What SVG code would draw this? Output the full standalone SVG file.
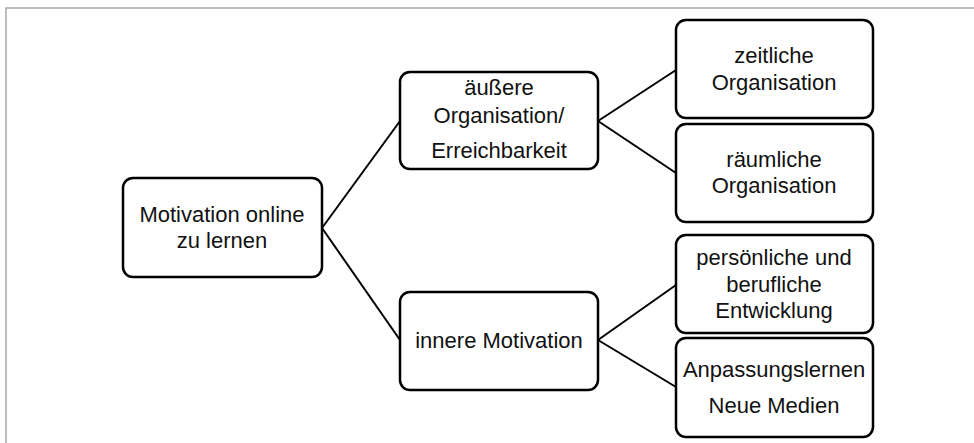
<svg xmlns="http://www.w3.org/2000/svg" width="974" height="443" viewBox="0 0 974 443">
  <style>
    .frame { fill: none; stroke: #a6a6a6; stroke-width: 1.5; }
    .box { fill: #ffffff; stroke: #000000; stroke-width: 2.5; }
    .link { fill: none; stroke: #000000; stroke-width: 2; }
    text { font-family: "Liberation Sans", Arial, sans-serif; font-size: 22px; fill: #111111; text-anchor: middle; }
  </style>
  <rect width="974" height="443" fill="#ffffff"/>
  <!-- page frame, running past the right and bottom edges -->
  <rect class="frame" x="6" y="8" width="1000" height="500"/>

  <g id="connectors">
    <line class="link" x1="322" y1="228" x2="400" y2="121"/>
    <line class="link" x1="322" y1="228" x2="400" y2="340"/>
    <line class="link" x1="598" y1="121" x2="676" y2="70"/>
    <line class="link" x1="598" y1="121" x2="676" y2="173"/>
    <line class="link" x1="598" y1="340" x2="676" y2="285"/>
    <line class="link" x1="598" y1="340" x2="676" y2="387"/>
  </g>

  <g id="root">
    <rect class="box" x="123" y="178" width="199" height="99" rx="10"/>
    <text x="222" y="222">Motivation online</text>
    <text x="222" y="248">zu lernen</text>
  </g>

  <g id="aeussere">
    <rect class="box" x="400" y="72" width="198" height="97" rx="10"/>
    <text x="499" y="95">äußere</text>
    <text x="499" y="123">Organisation/</text>
    <text x="499" y="158">Erreichbarkeit</text>
  </g>

  <g id="innere">
    <rect class="box" x="400" y="292" width="198" height="98" rx="10"/>
    <text x="499" y="348">innere Motivation</text>
  </g>

  <g id="zeitliche">
    <rect class="box" x="676" y="20" width="197" height="98" rx="10"/>
    <text x="774" y="63">zeitliche</text>
    <text x="774" y="90">Organisation</text>
  </g>

  <g id="raeumliche">
    <rect class="box" x="676" y="124" width="197" height="98" rx="10"/>
    <text x="774" y="167">räumliche</text>
    <text x="774" y="193">Organisation</text>
  </g>

  <g id="persoenliche">
    <rect class="box" x="676" y="235" width="197" height="98" rx="10"/>
    <text x="774" y="265">persönliche und</text>
    <text x="774" y="292">berufliche</text>
    <text x="774" y="318">Entwicklung</text>
  </g>

  <g id="anpassung">
    <rect class="box" x="676" y="338" width="197" height="99" rx="10"/>
    <text x="774" y="377">Anpassungslernen</text>
    <text x="774" y="413">Neue Medien</text>
  </g>
</svg>
